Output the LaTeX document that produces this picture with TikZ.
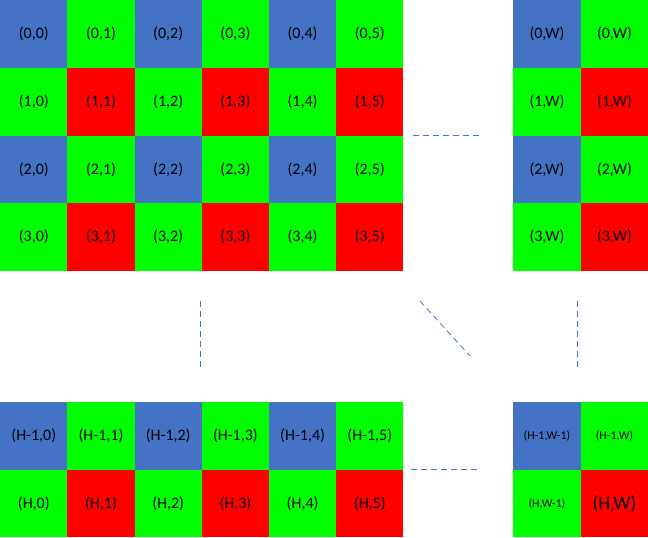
\documentclass[tikz,border=0pt]{standalone}
\usepackage{fontspec}
\setmainfont{Carlito}
\begin{document}
\begin{tikzpicture}[x=1pt,y=-1pt,
  cell/.style={minimum width=67.2pt,minimum height=67.6pt,inner sep=0pt,anchor=north west,font=\fontsize{16}{16}\selectfont},
  cb/.style={cell,fill={rgb,255:red,68;green,114;blue,196}},
  cg/.style={cell,fill={rgb,255:red,0;green,255;blue,0}},
  cr/.style={cell,fill={rgb,255:red,255;green,0;blue,0}},
  dl/.style={draw={rgb,255:red,68;green,114;blue,196},dash pattern=on 6pt off 4pt,line width=0.8pt}]
\useasboundingbox (0,0) rectangle (648,538);
% top main grid
\foreach \r in {0,1,2,3}{
  \foreach \c in {0,...,5}{
    \pgfmathtruncatemacro{\rm}{mod(\r,2)}
    \pgfmathtruncatemacro{\cm}{mod(\c,2)}
    \ifnum\rm=0 \ifnum\cm=0 \def\st{cb}\else\def\st{cg}\fi
    \else \ifnum\cm=0 \def\st{cg}\else\def\st{cr}\fi\fi
    \node[\st] (t\r\c) at (67.2*\c,67.75*\r) {(\r,\c)};
  }
  \pgfmathtruncatemacro{\rm}{mod(\r,2)}
  \ifnum\rm=0 \def\sa{cb}\def\sb{cg}\else\def\sa{cg}\def\sb{cr}\fi
  \node[\sa,minimum width=67.5pt] (r\r a) at (513,67.75*\r) {(\r,W)};
  \node[\sb,minimum width=67.5pt] (r\r b) at (580.5,67.75*\r) {(\r,W)};
}
% bottom grid
\foreach \c in {0,...,5}{
  \pgfmathtruncatemacro{\cm}{mod(\c,2)}
  \ifnum\cm=0 \def\sa{cb}\def\sb{cg}\else\def\sa{cg}\def\sb{cr}\fi
  \node[\sa] (b0\c) at (67.2*\c,402) {(H-1,\c)};
  \node[\sb] (b1\c) at (67.2*\c,469.5) {(H,\c)};
}
\node[cb,minimum width=67.5pt,font=\fontsize{12}{12}\selectfont] (q1) at (513,402) {(H-1,W-1)};
\node[cg,minimum width=67.5pt,font=\fontsize{12}{12}\selectfont] (q2) at (580.5,402) {(H-1,W)};
\node[cg,minimum width=67.5pt,font=\fontsize{12}{12}\selectfont] (q3) at (513,469.5) {(H,W-1)};
\node[cr,minimum width=67.5pt,font=\fontsize{19}{19}\selectfont] (q4) at (580.5,469.5) {(H,W)};
% dashed connectors
\coordinate (h1a) at (413,135); \coordinate (h1b) at (480,135);
\coordinate (v1a) at (200,301); \coordinate (v1b) at (200,369);
\coordinate (d1a) at (420,301); \coordinate (d1b) at (470,356);
\coordinate (v2a) at (577,301); \coordinate (v2b) at (577,369);
\coordinate (h2a) at (411,469); \coordinate (h2b) at (480,469);
\draw[dl] (h1a) -- (h1b);
\draw[dl] (v1a) -- (v1b);
\draw[dl] (d1a) -- (d1b);
\draw[dl] (v2a) -- (v2b);
\draw[dl] (h2a) -- (h2b);
\end{tikzpicture}
\end{document}
